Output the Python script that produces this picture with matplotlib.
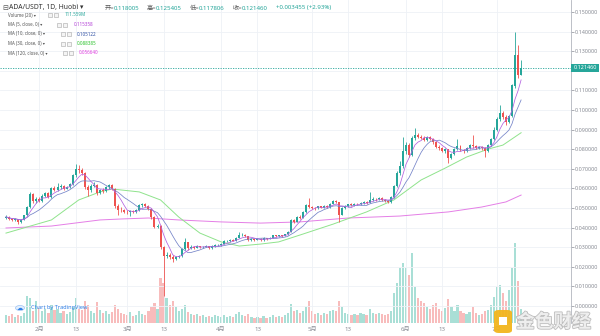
import matplotlib
matplotlib.use('Agg')
import matplotlib.pyplot as plt
import matplotlib.patheffects as pe
from matplotlib.patches import Rectangle, FancyBboxPatch, Circle
import numpy as np
import pandas as pd

plt.rcParams['font.family'] = ['Noto Sans', 'Noto Sans CJK SC', 'DejaVu Sans']

# ---- data (ADA/USDT, 1D, Huobi) ----
start_date = '2020-01-21'
first_open = 0.0450

close = [
    0.0455, 0.0445, 0.0438, 0.0442, 0.0428, 0.0440, 0.0462, 0.0505, 0.0572, 0.0535,
    0.0548, 0.0538, 0.0562, 0.0575, 0.0556, 0.0600, 0.0592, 0.0605, 0.0612, 0.0598,
    0.0608, 0.0620, 0.0668, 0.0700, 0.0692, 0.0680, 0.0605, 0.0590, 0.0612, 0.0618,
    0.0575, 0.0590, 0.0585, 0.0605, 0.0615, 0.0598, 0.0508, 0.0492, 0.0488, 0.0480,
    0.0478, 0.0484, 0.0480, 0.0490, 0.0515, 0.0518, 0.0512, 0.0495, 0.0452, 0.0405,
    0.0410, 0.0300, 0.0255, 0.0262, 0.0252, 0.0240, 0.0250, 0.0255, 0.0292, 0.0325,
    0.0295, 0.0302, 0.0298, 0.0305, 0.0300, 0.0303, 0.0306, 0.0295, 0.0305, 0.0310,
    0.0312, 0.0318, 0.0330, 0.0332, 0.0336, 0.0334, 0.0348, 0.0360, 0.0362, 0.0355,
    0.0335, 0.0340, 0.0338, 0.0342, 0.0338, 0.0345, 0.0342, 0.0348, 0.0360, 0.0355,
    0.0360, 0.0358, 0.0365, 0.0380, 0.0438, 0.0430, 0.0455, 0.0450, 0.0480, 0.0515,
    0.0505, 0.0500, 0.0498, 0.0508, 0.0502, 0.0510, 0.0505, 0.0522, 0.0535, 0.0530,
    0.0465, 0.0500, 0.0510, 0.0518, 0.0515, 0.0522, 0.0518, 0.0525, 0.0530, 0.0528,
    0.0540, 0.0548, 0.0545, 0.0552, 0.0540, 0.0535, 0.0530, 0.0555, 0.0610, 0.0680,
    0.0715, 0.0790, 0.0820, 0.0770, 0.0855, 0.0875, 0.0862, 0.0858, 0.0848, 0.0860,
    0.0852, 0.0835, 0.0812, 0.0805, 0.0790, 0.0800, 0.0755, 0.0775, 0.0800, 0.0815,
    0.0795, 0.0790, 0.0805, 0.0820, 0.0815, 0.0808, 0.0812, 0.0805, 0.0790, 0.0820,
    0.0850, 0.0900, 0.0955, 0.0985, 0.0965, 0.0940, 0.0968, 0.1125, 0.1280, 0.118005,
    0.121460,
]

high = [
    0.0462, 0.0458, 0.0448, 0.0447, 0.0445, 0.0443, 0.0466, 0.0512, 0.0582, 0.0578,
    0.0556, 0.0555, 0.0570, 0.0584, 0.0580, 0.0606, 0.0610, 0.0628, 0.0620, 0.0616,
    0.0614, 0.0626, 0.0675, 0.0724, 0.0718, 0.0705, 0.0685, 0.0615, 0.0622, 0.0632,
    0.0622, 0.0598, 0.0600, 0.0612, 0.0625, 0.0620, 0.0602, 0.0520, 0.0505, 0.0495,
    0.0488, 0.0490, 0.0492, 0.0496, 0.0520, 0.0526, 0.0524, 0.0516, 0.0500, 0.0458,
    0.0418, 0.0412, 0.0305, 0.0275, 0.0270, 0.0258, 0.0256, 0.0262, 0.0298, 0.0347,
    0.0328, 0.0310, 0.0306, 0.0310, 0.0308, 0.0308, 0.0311, 0.0308, 0.0309, 0.0314,
    0.0318, 0.0322, 0.0335, 0.0338, 0.0340, 0.0341, 0.0352, 0.0378, 0.0370, 0.0366,
    0.0358, 0.0345, 0.0344, 0.0346, 0.0345, 0.0350, 0.0348, 0.0352, 0.0364, 0.0363,
    0.0364, 0.0363, 0.0368, 0.0385, 0.0442, 0.0445, 0.0460, 0.0462, 0.0486, 0.0522,
    0.0550, 0.0512, 0.0506, 0.0512, 0.0512, 0.0514, 0.0514, 0.0526, 0.0540, 0.0542,
    0.0532, 0.0505, 0.0515, 0.0522, 0.0524, 0.0527, 0.0526, 0.0530, 0.0535, 0.0534,
    0.0580, 0.0554, 0.0552, 0.0558, 0.0555, 0.0545, 0.0540, 0.0560, 0.0616, 0.0690,
    0.0740, 0.0860, 0.0835, 0.0832, 0.0868, 0.0910, 0.0885, 0.0875, 0.0868, 0.0866,
    0.0865, 0.0856, 0.0840, 0.0820, 0.0810, 0.0806, 0.0802, 0.0780, 0.0806, 0.0850,
    0.0820, 0.0802, 0.0810, 0.0826, 0.0870, 0.0822, 0.0818, 0.0816, 0.0810, 0.0826,
    0.0856, 0.0912, 0.0962, 0.1025, 0.0995, 0.0975, 0.0975, 0.1135, 0.1398, 0.1330,
    0.125405,
]

low = [
    0.0446, 0.0440, 0.0432, 0.0434, 0.0420, 0.0425, 0.0437, 0.0458, 0.0500, 0.0528,
    0.0525, 0.0530, 0.0532, 0.0555, 0.0550, 0.0552, 0.0585, 0.0588, 0.0598, 0.0592,
    0.0595, 0.0600, 0.0615, 0.0660, 0.0680, 0.0668, 0.0598, 0.0560, 0.0582, 0.0605,
    0.0568, 0.0570, 0.0578, 0.0580, 0.0598, 0.0592, 0.0500, 0.0464, 0.0478, 0.0472,
    0.0470, 0.0460, 0.0474, 0.0476, 0.0486, 0.0505, 0.0504, 0.0490, 0.0445, 0.0398,
    0.0400, 0.0290, 0.0050, 0.0245, 0.0240, 0.0224, 0.0236, 0.0245, 0.0250, 0.0288,
    0.0288, 0.0290, 0.0292, 0.0294, 0.0296, 0.0297, 0.0300, 0.0290, 0.0292, 0.0302,
    0.0306, 0.0308, 0.0315, 0.0326, 0.0328, 0.0330, 0.0332, 0.0345, 0.0355, 0.0350,
    0.0330, 0.0332, 0.0333, 0.0335, 0.0334, 0.0330, 0.0338, 0.0340, 0.0345, 0.0350,
    0.0352, 0.0353, 0.0355, 0.0362, 0.0378, 0.0422, 0.0428, 0.0444, 0.0448, 0.0476,
    0.0498, 0.0494, 0.0490, 0.0494, 0.0498, 0.0498, 0.0500, 0.0502, 0.0518, 0.0524,
    0.0430, 0.0462, 0.0495, 0.0505, 0.0510, 0.0512, 0.0514, 0.0515, 0.0520, 0.0522,
    0.0525, 0.0536, 0.0538, 0.0540, 0.0535, 0.0530, 0.0524, 0.0528, 0.0552, 0.0605,
    0.0670, 0.0705, 0.0775, 0.0760, 0.0765, 0.0848, 0.0855, 0.0850, 0.0842, 0.0844,
    0.0846, 0.0828, 0.0805, 0.0796, 0.0784, 0.0780, 0.0730, 0.0750, 0.0770, 0.0795,
    0.0790, 0.0782, 0.0785, 0.0800, 0.0808, 0.0802, 0.0802, 0.0798, 0.0760, 0.0786,
    0.0815, 0.0845, 0.0895, 0.0945, 0.0955, 0.0925, 0.0935, 0.0962, 0.1110, 0.1165,
    0.117806,
]

# relative daily volume
volume = [
    8, 7, 9, 6, 8, 7, 10, 27, 25, 12, 22, 15, 12, 14,
    10, 18, 13, 14, 10, 12, 9, 11, 16, 25, 14, 13, 22, 18,
    12, 10, 21, 13, 10, 12, 9, 11, 18, 14, 10, 9, 8, 11,
    7, 8, 12, 9, 8, 12, 16, 20, 14, 45, 40, 25, 18, 22,
    16, 12, 14, 18, 11, 9, 8, 9, 7, 8, 6, 7, 6, 8,
    7, 6, 8, 6, 7, 6, 9, 11, 8, 7, 9, 6, 5, 6,
    5, 7, 5, 6, 8, 6, 7, 6, 8, 10, 19, 12, 13, 10,
    12, 16, 22, 12, 9, 10, 8, 10, 9, 12, 13, 12, 22, 16,
    10, 9, 8, 9, 8, 10, 9, 8, 14, 10, 9, 10, 9, 8,
    9, 12, 30, 40, 55, 60, 55, 48, 70, 36, 25, 22, 20, 16,
    14, 18, 20, 14, 12, 15, 24, 16, 12, 18, 12, 10, 9, 11,
    16, 10, 8, 9, 12, 13, 18, 26, 36, 38, 30, 22, 33, 55,
    80, 42, 14,
]

# MA(30) and MA(120) (bar index, value)
ma30_at = [0, 15, 24, 31, 35, 44, 51, 57, 64, 71, 77, 84, 90, 97, 108, 119,
           128, 137, 145, 152, 159, 164, 170]
ma30_val = [0.0372, 0.0439, 0.0541, 0.0582, 0.0597, 0.0582, 0.0541, 0.0454,
            0.0372, 0.0327, 0.0306, 0.0316, 0.0327, 0.0362, 0.0418, 0.0480,
            0.0541, 0.0643, 0.0704, 0.0760, 0.0800, 0.0821, 0.0884]
ma120_at = [0, 15, 31, 38, 47, 57, 71, 84, 97, 113, 130, 146, 157, 165, 170]
ma120_val = [0.0398, 0.0408, 0.0439, 0.0444, 0.0449, 0.0439, 0.0429, 0.0423,
             0.0429, 0.0449, 0.0459, 0.0480, 0.0505, 0.0531, 0.0566]

header_vals = ['0.118005', '0.125405', '0.117806', '0.121460']
header_change = '+0.003455 (+2.93%)'
legend_vals = ['111.559M', '0.115358', '0.105122', '0.088385', '0.056640']

# ---- derived ----
UP = '#26a69a'
DOWN = '#ef5350'
n = len(close)
idx = np.arange(n)
dates = pd.date_range(start_date, periods=n, freq='D')
c = np.array(close)
o = np.array([first_open] + close[:-1])
hi = np.maximum(np.array(high), np.maximum(o, c))
lo = np.minimum(np.array(low), np.minimum(o, c))
up = c >= o
cols = np.where(up, UP, DOWN)
s = pd.Series(close)
ma5 = s.rolling(5, min_periods=1).mean()
ma10 = s.rolling(10, min_periods=1).mean()

W, H = 600, 336
fig = plt.figure(figsize=(6, 3.36), dpi=100)
fig.patch.set_facecolor('white')
right_px, bottom_px = 571, 323
rect = [0, (H - bottom_px) / H, right_px / W, bottom_px / H]

day_px = 3.03
xlim = (-6 / day_px, (right_px - 6) / day_px)

# volume pane (behind)
axv = fig.add_axes(rect)
axv.set_xlim(*xlim)
axv.bar(idx, volume, width=0.72,
        color=np.where(up, '#a9dfd6', '#f8bcbc'), linewidth=0)
axv.set_ylim(0, max(volume) * bottom_px / 80)
axv.axis('off')

# price pane
ax = fig.add_axes(rect)
ax.set_facecolor('none')
ax.set_xlim(*xlim)
ax.set_ylim(-17 / 1960, 306 / 1960)

ticks = [i for i, d in enumerate(dates) if d.day in (1, 13) and i > 0]
tick_labels = [f'{dates[i].month}月' if dates[i].day == 1 else '13' for i in ticks]
ax.set_xticks(ticks)
ax.set_xticklabels(tick_labels)
yt = np.round(np.arange(0, 0.1501, 0.01), 2)
ax.set_yticks(yt)
# 0.120000 sits under the last-price tag
ax.set_yticklabels(['' if abs(v - 0.12) < 1e-9 else f'{v:.6f}' for v in yt])
ax.yaxis.tick_right()
ax.tick_params(axis='y', labelsize=3.9, colors='#8a8d96', length=2, width=0.5, pad=1)
ax.tick_params(axis='x', labelsize=4.4, colors='#8a8d96', length=0, pad=3)
ax.grid(color='#eef1f6', linewidth=0.6)
ax.set_axisbelow(True)
for side in ['top', 'left', 'bottom']:
    ax.spines[side].set_visible(False)
ax.spines['right'].set_color('#b2b5be')
ax.spines['right'].set_linewidth(0.6)

# candles
ax.vlines(idx, lo, hi, colors=cols, linewidth=0.6, zorder=3)
ax.bar(idx, np.maximum(np.abs(c - o), 0.00025), bottom=np.minimum(o, c),
       width=0.66, color=cols, linewidth=0, zorder=4)

# moving averages
ax.plot(ma120_at, ma120_val, color='#e47ee6', linewidth=0.7, zorder=2)
ax.plot(ma30_at, ma30_val, color='#8fe38c', linewidth=0.7, zorder=2)
ax.plot(idx, ma10, color='#7483c8', linewidth=0.55, zorder=5)
ax.plot(idx, ma5, color='#b261e0', linewidth=0.55, zorder=5)

# last price line and label
ax.axhline(c[-1], color=UP, linewidth=0.6, linestyle=(0, (1.5, 1.5)), zorder=1)
ax.text(1.004, c[-1], header_vals[3], transform=ax.get_yaxis_transform(),
        ha='left', va='center', fontsize=3.9, color='white', fontweight='bold',
        bbox=dict(boxstyle='square,pad=0.35', fc=UP, ec='none'), zorder=10)


def ftext(x, y, txt, **kw):
    kw.setdefault('va', 'center')
    kw.setdefault('ha', 'left')
    fig.text(x / W, 1 - y / H, txt, **kw)


def icon_box(x, y):
    fig.add_artist(Rectangle((x / W, 1 - (y + 2) / H), 4 / W, 4 / H,
                             transform=fig.transFigure, fc='#f4f4f4',
                             ec='#a8a8a8', lw=0.4))


# header
ftext(2, 8, '⊟', fontsize=5, color='#555555', family='DejaVu Sans')
ftext(9, 8, 'ADA/USDT, 1D, Huobi ▾', fontsize=4.9, color='#333333')
for lab, val, x in zip(['开', '高', '低', '收'], header_vals, [105, 147, 190, 233]):
    ftext(x, 8, lab + '=', fontsize=4.4, color='#555555')
    ftext(x + 8.5, 8, val, fontsize=4.4, color=UP)
ftext(276, 8, header_change, fontsize=4.4, color=UP)

legend_rows = [
    ('Volume (20) ▾', UP, 15, 48, 65),
    ('MA (5, close, 0) ▾', '#b23fd6', 24.5, 57, 74),
    ('MA (10, close, 0) ▾', '#2e4fa3', 34, 61, 77),
    ('MA (30, close, 0) ▾', '#2cc22c', 43.5, 61, 77),
    ('MA (120, close, 0) ▾', '#e03ee0', 53, 63, 79),
]
for (lab, col, y, xi, xv), val in zip(legend_rows, legend_vals):
    ftext(8, y, lab, fontsize=3.2, color='#555555')
    icon_box(xi, y)
    icon_box(xi + 6, y)
    ftext(xv, y, val, fontsize=3.3, color=col)

# TradingView credit
fig.add_artist(Circle((20 / W, 1 - 308 / H), 4.5 / W, transform=fig.transFigure,
                      fc='#e3effd', ec='#9cc3f5', lw=0.5))
ftext(17, 308.5, '☁', fontsize=4.5, color='#2e7ee6', family='DejaVu Sans')
ftext(31, 308, 'Chart by TradingView', fontsize=4, color='#2e7ee6')

# watermark
fig.add_artist(FancyBboxPatch((494 / W, 1 - 333 / H), 18 / W, 23 / H,
                              boxstyle='round,pad=0,rounding_size=0.008',
                              transform=fig.transFigure, fc='#f2b51d', ec='none',
                              alpha=0.95))
fig.add_artist(Rectangle((499 / W, 1 - 325 / H), 8 / W, 8 / H,
                         transform=fig.transFigure, fc='white', ec='none'))
ftext(516, 322, '金色财经', fontsize=13.5, color='#eeeeee', fontweight='bold',
      family=['Noto Sans CJK SC'],
      path_effects=[pe.withStroke(linewidth=1.2, foreground='#bdbdbd')])

fig.savefig('out.png', dpi=100, facecolor='white')
